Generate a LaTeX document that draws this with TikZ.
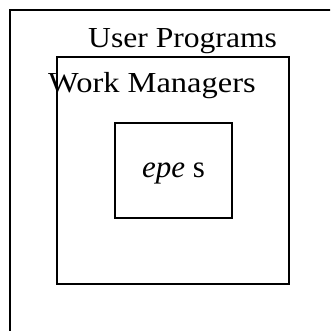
\documentclass[tikz,border=0pt]{standalone}
\usepackage{fontspec}
\setmainfont{Liberation Serif}
\begin{document}
\begin{tikzpicture}[x=1pt,y=-1pt,
  layer/.style={draw=black,line width=1.4pt},
  caption/.style={anchor=base west,inner sep=0pt,font=\fontsize{29}{32}\selectfont}]
\useasboundingbox (0,0) rectangle (330,331);
\begin{scope}
\clip (0,0) rectangle (330,331);
% nested layers
\draw[layer] (10,10) rectangle (334,335);
\draw[layer] (57,57) rectangle (289,284);
\draw[layer] (115,123) rectangle (232,218);
\end{scope}
\node[caption] (user) at (88,48) {\scalebox{1.09}[1]{User Programs}};
\node[caption] (work) at (48,93) {\scalebox{1.12}[1]{Work Managers}};
\node[caption,font=\fontsize{31}{34}\selectfont] (core) at (142,177) {\textit{epe} s};
\end{tikzpicture}
\end{document}
